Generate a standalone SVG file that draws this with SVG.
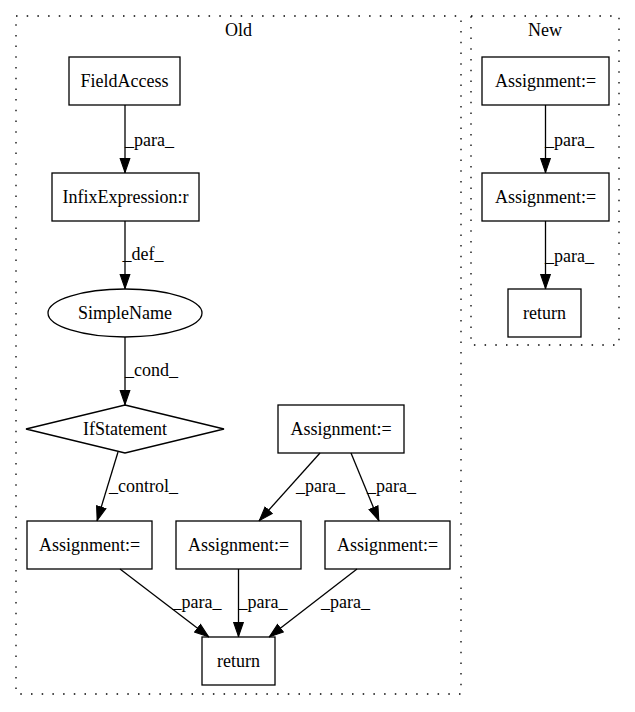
<svg xmlns="http://www.w3.org/2000/svg" width="635" height="712" viewBox="0 0 635 712">
<style>
text{font-family:"Liberation Serif","Times New Roman",serif;font-size:18px;text-anchor:middle;fill:#000}
.n{fill:none;stroke:#000;stroke-width:1.3}
.c{fill:none;stroke:#000;stroke-width:1.3;stroke-dasharray:1.5,9.2}
.e{fill:none;stroke:#000;stroke-width:1.3;marker-end:url(#ah)}
</style>
<defs>
<marker id="ah" markerUnits="userSpaceOnUse" markerWidth="15" markerHeight="12" viewBox="0 0 14 10" refX="14" refY="5" orient="auto">
<path d="M0.5,0.5 L13.5,5 L0.5,9.5 Z" fill="#000" stroke="#000" stroke-width="1"/>
</marker>
</defs>
<rect width="635" height="712" fill="#fff"/>
<g id="cluster_old">
<rect class="c" x="16" y="16" width="445" height="678"/>
<text x="238.5" y="36">Old</text>
</g>
<g id="cluster_new">
<rect class="c" x="471" y="16" width="148" height="329"/>
<text x="545" y="36">New</text>
</g>
<g id="edges">
<path class="e" d="M125,105 L125,173"/>
<text x="149.5" y="146">_para_</text>
<path class="e" d="M125,221 L125,289"/>
<text x="143" y="260">_def_</text>
<path class="e" d="M125,337 L125,405"/>
<text x="151.5" y="376">_cond_</text>
<path class="e" d="M118,452 L97,521"/>
<text x="143.5" y="492">_control_</text>
<path class="e" d="M320,453 L259,521"/>
<text x="320.5" y="492">_para_</text>
<path class="e" d="M351,453 L379,521"/>
<text x="391.5" y="492">_para_</text>
<path class="e" d="M120,569 L209,637"/>
<text x="197" y="608">_para_</text>
<path class="e" d="M238.5,569 L238.5,637"/>
<text x="263" y="608">_para_</text>
<path class="e" d="M357,569 L269,637"/>
<text x="345.5" y="608">_para_</text>
<path class="e" d="M545.5,105 L545.5,173"/>
<text x="569.5" y="146">_para_</text>
<path class="e" d="M545.5,221 L545.5,289"/>
<text x="569.5" y="262">_para_</text>
</g>
<g id="FieldAccess">
<rect class="n" x="69" y="57" width="111" height="48"/>
<text x="124.5" y="87">FieldAccess</text>
</g>
<g id="InfixExpression">
<rect class="n" x="52" y="173" width="147" height="48"/>
<text x="125.5" y="203">InfixExpression:r</text>
</g>
<g id="SimpleName">
<ellipse class="n" cx="125" cy="313" rx="77" ry="24"/>
<text x="125" y="319">SimpleName</text>
</g>
<g id="IfStatement">
<polygon class="n" points="125,405 224,429 125,453 26,429"/>
<text x="125" y="435">IfStatement</text>
</g>
<g id="AssignTop">
<rect class="n" x="278" y="405" width="126" height="48"/>
<text x="341" y="435">Assignment:=</text>
</g>
<g id="Assign1">
<rect class="n" x="27" y="521" width="125" height="48"/>
<text x="89.5" y="551">Assignment:=</text>
</g>
<g id="Assign2">
<rect class="n" x="176" y="521" width="125" height="48"/>
<text x="238.5" y="551">Assignment:=</text>
</g>
<g id="Assign3">
<rect class="n" x="325" y="521" width="125" height="48"/>
<text x="387.5" y="551">Assignment:=</text>
</g>
<g id="ReturnOld">
<rect class="n" x="202" y="637" width="73" height="48"/>
<text x="238.5" y="667">return</text>
</g>
<g id="NewAssign1">
<rect class="n" x="482" y="57" width="127" height="48"/>
<text x="545.5" y="87">Assignment:=</text>
</g>
<g id="NewAssign2">
<rect class="n" x="482" y="173" width="127" height="48"/>
<text x="545.5" y="203">Assignment:=</text>
</g>
<g id="NewReturn">
<rect class="n" x="508" y="289" width="73" height="48"/>
<text x="544.5" y="319">return</text>
</g>
</svg>
